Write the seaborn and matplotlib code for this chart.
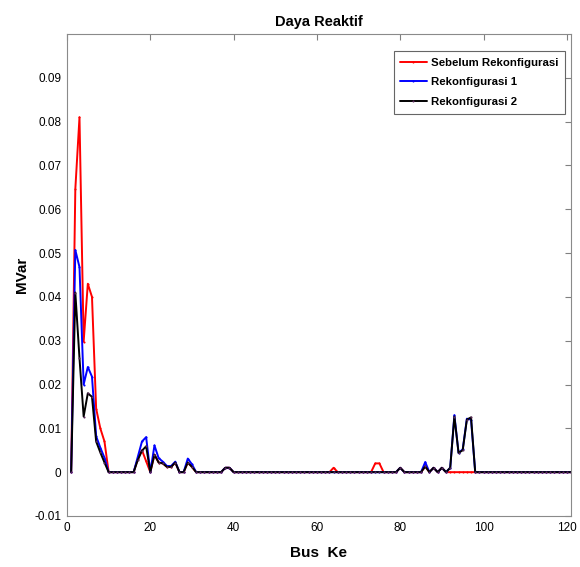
import numpy as np
import pandas as pd
import seaborn as sns
import matplotlib
matplotlib.use("Agg")
import matplotlib.pyplot as plt

bus = list(range(1, 123))

sebelum = [
    0, 0.0646, 0.0810, 0.0298, 0.0430, 0.0400, 0.0145, 0.0100, 0.0070, 0,
    0, 0, 0, 0, 0, 0, 0.0030, 0.0050, 0.0025, 0,
    0.0040, 0.0022, 0.0020, 0.0012, 0.0012, 0.0022, 0, 0, 0.0022, 0.0012,
    0, 0, 0, 0, 0, 0, 0, 0.0010, 0.0010, 0,
    0, 0, 0, 0, 0, 0, 0, 0, 0, 0,
    0, 0, 0, 0, 0, 0, 0, 0, 0, 0,
    0, 0, 0, 0.0010, 0, 0, 0, 0, 0, 0,
    0, 0, 0, 0.0020, 0.0020, 0, 0, 0, 0, 0.0010,
    0, 0, 0, 0, 0, 0.0013, 0, 0.0010, 0, 0.0010,
    0, 0, 0, 0, 0, 0, 0, 0, 0, 0,
    0, 0, 0, 0, 0, 0, 0, 0, 0, 0,
    0, 0, 0, 0, 0, 0, 0, 0, 0, 0,
    0, 0,
]

rekonf1 = [
    0, 0.0507, 0.0468, 0.0200, 0.0240, 0.0218, 0.0082, 0.0056, 0.0033, 0,
    0, 0, 0, 0, 0, 0, 0.0035, 0.0070, 0.0080, 0,
    0.0061, 0.0032, 0.0024, 0.0014, 0.0014, 0.0024, 0, 0, 0.0031, 0.0018,
    0, 0, 0, 0, 0, 0, 0, 0.0010, 0.0010, 0,
    0, 0, 0, 0, 0, 0, 0, 0, 0, 0,
    0, 0, 0, 0, 0, 0, 0, 0, 0, 0,
    0, 0, 0, 0, 0, 0, 0, 0, 0, 0,
    0, 0, 0, 0, 0, 0, 0, 0, 0, 0.0010,
    0, 0, 0, 0, 0, 0.0023, 0, 0.0010, 0, 0.0010,
    0, 0.0010, 0.0130, 0.0044, 0.0052, 0.0122, 0.0120, 0, 0, 0,
    0, 0, 0, 0, 0, 0, 0, 0, 0, 0,
    0, 0, 0, 0, 0, 0, 0, 0, 0, 0,
    0, 0,
]

rekonf2 = [
    0, 0.0410, 0.0260, 0.0127, 0.0180, 0.0172, 0.0070, 0.0045, 0.0022, 0,
    0, 0, 0, 0, 0, 0, 0.0028, 0.0049, 0.0059, 0,
    0.0040, 0.0022, 0.0020, 0.0012, 0.0012, 0.0022, 0, 0, 0.0022, 0.0012,
    0, 0, 0, 0, 0, 0, 0, 0.0010, 0.0010, 0,
    0, 0, 0, 0, 0, 0, 0, 0, 0, 0,
    0, 0, 0, 0, 0, 0, 0, 0, 0, 0,
    0, 0, 0, 0, 0, 0, 0, 0, 0, 0,
    0, 0, 0, 0, 0, 0, 0, 0, 0, 0.0010,
    0, 0, 0, 0, 0, 0.0013, 0, 0.0010, 0, 0.0010,
    0, 0.0010, 0.0127, 0.0044, 0.0050, 0.0120, 0.0125, 0, 0, 0,
    0, 0, 0, 0, 0, 0, 0, 0, 0, 0,
    0, 0, 0, 0, 0, 0, 0, 0, 0, 0,
    0, 0,
]

series_names = ["Sebelum Rekonfigurasi", "Rekonfigurasi 1", "Rekonfigurasi 2"]
series_colors = ["#ff0000", "#0000ff", "#000000"]
yticks = [-0.01, 0, 0.01, 0.02, 0.03, 0.04, 0.05, 0.06, 0.07, 0.08, 0.09]
ytick_labels = ["-0.01", "0", "0.01", "0.02", "0.03", "0.04", "0.05", "0.06", "0.07", "0.08", "0.09"]
xticks = [0, 20, 40, 60, 80, 100, 120]

sns.set_style("white")
plt.rcParams["font.family"] = ["Liberation Sans", "DejaVu Sans"]
plt.rcParams["text.color"] = "black"
plt.rcParams["axes.labelcolor"] = "black"

fig = plt.figure(figsize=(5.8, 5.67), dpi=100)
ax = fig.add_axes([0.1155, 0.090, 0.869, 0.850])

for name, vals, col in zip(series_names, [sebelum, rekonf1, rekonf2], series_colors):
    df = pd.DataFrame({"bus": bus, "val": vals})
    sns.lineplot(data=df, x="bus", y="val", ax=ax, color=col, label=name,
                 linewidth=1.4, marker=".", markersize=3.0,
                 markeredgewidth=0, markerfacecolor="#5a2a5a" if col == "#000000" else col)

ax.set_xlim(0, 121)
ax.set_ylim(-0.01, 0.1)
ax.set_xticks(xticks)
ax.set_yticks(yticks)
ax.set_xticklabels([str(t) for t in xticks], fontsize=8.5)
ax.set_yticklabels(ytick_labels, fontsize=8.5)
ax.tick_params(direction="in", length=4.5, width=0.8, color="#808080",
               top=True, right=True, labelcolor="black", pad=4)
for sp in ax.spines.values():
    sp.set_visible(True)
    sp.set_color("#8a8a8a")
    sp.set_linewidth(0.8)

ax.set_title("Daya Reaktif", fontsize=10.5, fontweight="bold", pad=6, color="black")
ax.set_xlabel("Bus  Ke", fontsize=11, fontweight="bold", labelpad=9, color="black")
ax.set_ylabel("MVar", fontsize=11, fontweight="bold", labelpad=4, color="black")

leg = ax.legend(loc="upper right", bbox_to_anchor=(0.988, 0.965), borderaxespad=0,
                fontsize=8.2, frameon=True, fancybox=False,
                handlelength=2.3, handletextpad=0.36,
                labelspacing=0.85, borderpad=0.6)
leg.get_frame().set_edgecolor("#404040")
leg.get_frame().set_linewidth(0.8)
for t in leg.get_texts():
    t.set_fontweight("bold")
    t.set_color("black")

fig.savefig("out.png", dpi=100)
